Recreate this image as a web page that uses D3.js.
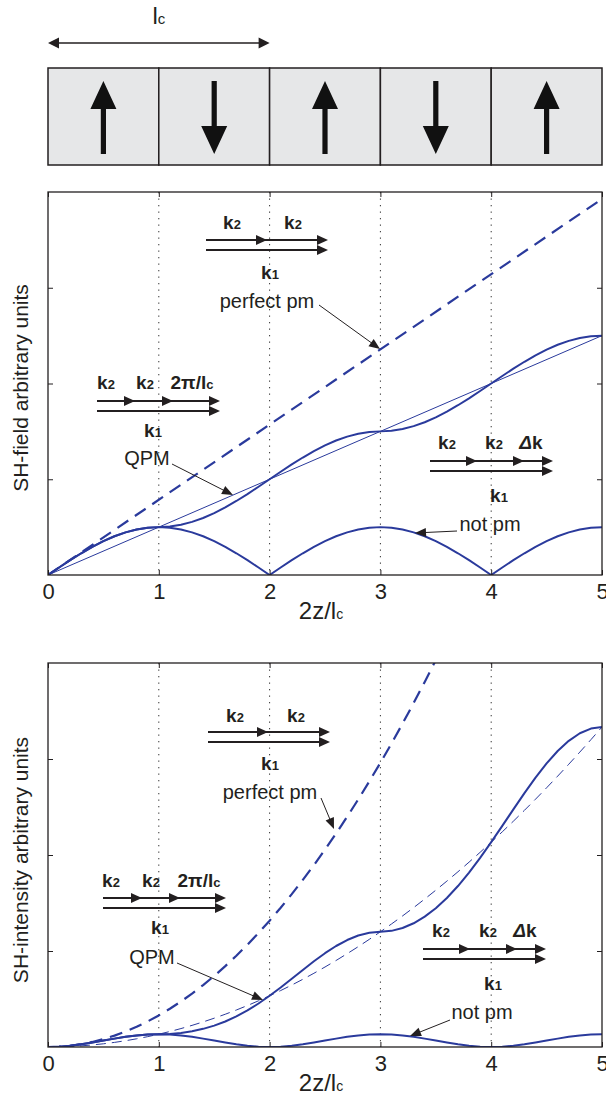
<!DOCTYPE html>
<html>
<head>
<meta charset="utf-8">
<script src="https://cdn.jsdelivr.net/npm/d3@7"></script>
<style>
  body { margin: 0; background: #fff; }
  svg { display: block; }
  text { font-family: "Liberation Sans", Arial, Helvetica, sans-serif; fill: #231f20; }
</style>
</head>
<body>
<svg id="fig" width="606" height="1101"></svg>
<script>
// ---- data -----------------------------------------------------------------
// position along the crystal, in units of lc/2 (one poled domain per unit)
const zGrid = [0,0.1,0.2,0.3,0.4,0.5,0.6,0.7,0.8,0.9,1,
  1.1,1.2,1.3,1.4,1.5,1.6,1.7,1.8,1.9,2,
  2.1,2.2,2.3,2.4,2.5,2.6,2.7,2.8,2.9,3,
  3.1,3.2,3.3,3.4,3.5,3.6,3.7,3.8,3.9,4,
  4.1,4.2,4.3,4.4,4.5,4.6,4.7,4.8,4.9,5];
const lineEnds = [0, 5];

// orientation of the ferroelectric domains (+1 up, -1 down)
const domainPolarity = [1, -1, 1, -1, 1];

const xTicks = [0, 1, 2, 3, 4, 5];
const gridLines = [1, 2, 3, 4];
const fieldTicks = [2, 4, 6];
const intensityTicks = [7.5, 15, 22.5];

// SH field amplitude
const fieldNotPm = [0,0.1564,0.3090,0.4540,0.5878,0.7071,0.8090,0.8910,0.9511,0.9877,1,
  0.9877,0.9511,0.8910,0.8090,0.7071,0.5878,0.4540,0.3090,0.1564,0,
  0.1564,0.3090,0.4540,0.5878,0.7071,0.8090,0.8910,0.9511,0.9877,1,
  0.9877,0.9511,0.8910,0.8090,0.7071,0.5878,0.4540,0.3090,0.1564,0,
  0.1564,0.3090,0.4540,0.5878,0.7071,0.8090,0.8910,0.9511,0.9877,1];
const fieldQpm = [0,0.1564,0.3090,0.4540,0.5878,0.7071,0.8090,0.8910,0.9511,0.9877,1,
  1.0123,1.0489,1.1090,1.1910,1.2929,1.4122,1.5460,1.6910,1.8436,2,
  2.1564,2.3090,2.4540,2.5878,2.7071,2.8090,2.8910,2.9511,2.9877,3,
  3.0123,3.0489,3.1090,3.1910,3.2929,3.4122,3.5460,3.6910,3.8436,4,
  4.1564,4.3090,4.4540,4.5878,4.7071,4.8090,4.8910,4.9511,4.9877,5];
const fieldPerfectPm = [0, 7.854];
const fieldQpmMean = [0, 5];

// SH intensity
const intensityNotPm = [0,0.0245,0.0955,0.2061,0.3455,0.5,0.6545,0.7939,0.9045,0.9755,1,
  0.9755,0.9045,0.7939,0.6545,0.5,0.3455,0.2061,0.0955,0.0245,0,
  0.0245,0.0955,0.2061,0.3455,0.5,0.6545,0.7939,0.9045,0.9755,1,
  0.9755,0.9045,0.7939,0.6545,0.5,0.3455,0.2061,0.0955,0.0245,0,
  0.0245,0.0955,0.2061,0.3455,0.5,0.6545,0.7939,0.9045,0.9755,1];
const intensityQpm = [0,0.0245,0.0955,0.2061,0.3455,0.5,0.6545,0.7939,0.9045,0.9755,1,
  1.0247,1.1002,1.2299,1.4185,1.6716,1.9943,2.3901,2.8595,3.3989,4,
  4.6501,5.3315,6.0221,6.6967,7.3284,7.8905,8.3579,8.7090,8.9264,9,
  9.0740,9.2958,9.6659,10.1825,10.8432,11.6431,12.5741,13.6235,14.7733,16,
  17.2757,18.5675,19.8381,21.0479,22.1568,23.1265,23.9219,24.5134,24.8772,25];
const intensityPerfectPm = [0,0.0247,0.0987,0.2221,0.3948,0.6169,0.8883,1.2090,1.5791,1.9986,2.4674,
  2.9856,3.5531,4.1699,4.8361,5.5517,6.3165,7.1308,7.9944,8.9073,9.8696,
  10.8812,11.9422,13.0525,14.2122,15.4213,16.6796,17.9873,19.3444,20.7508,22.2066,
  23.7117,25.2662,26.8700,28.5231,30.2257];
const intensityQpmMean = [0,0.01,0.04,0.09,0.16,0.25,0.36,0.49,0.64,0.81,1,
  1.21,1.44,1.69,1.96,2.25,2.56,2.89,3.24,3.61,4,
  4.41,4.84,5.29,5.76,6.25,6.76,7.29,7.84,8.41,9,
  9.61,10.24,10.89,11.56,12.25,12.96,13.69,14.44,15.21,16,
  16.81,17.64,18.49,19.36,20.25,21.16,22.09,23.04,24.01,25];

// ---- drawing --------------------------------------------------------------
const INK = '#231f20';
const BLUE = '#2a3a9c';
const svg = d3.select('#fig');
const x = d3.scaleLinear().domain([0, 5]).range([48, 602]);

function arrowHead(g, tx, ty, angle, len, half) {
  const c = Math.cos(angle), s = Math.sin(angle);
  const bx = tx - len * c, by = ty - len * s;
  const p = [[tx, ty], [bx - half * s, by + half * c], [bx + half * s, by - half * c]];
  g.append('path').attr('d', 'M' + p.map(q => q.join(',')).join('L') + 'Z').attr('fill', INK);
}

// poled crystal with domain orientations
const strip = svg.append('g');
const sTop = 68, sBot = 165;
strip.selectAll('rect').data(domainPolarity).join('rect')
  .attr('x', (d, i) => x(i)).attr('y', sTop)
  .attr('width', (d, i) => x(i + 1) - x(i)).attr('height', sBot - sTop)
  .attr('fill', '#e6e7e8').attr('stroke', INK).attr('stroke-width', 1.5);
strip.selectAll('path.pol').data(domainPolarity).join('path').attr('class', 'pol')
  .attr('fill', '#111')
  .attr('d', (d, i) => {
    const cx = x(i + 0.5), top = 81, bot = 154, hl = 28, hw = 13, sw = 2.6;
    if (d > 0) {
      return `M${cx},${top}L${cx + hw},${top + hl}L${cx + sw},${top + hl}L${cx + sw},${bot}` +
             `L${cx - sw},${bot}L${cx - sw},${top + hl}L${cx - hw},${top + hl}Z`;
    }
    return `M${cx},${bot}L${cx + hw},${bot - hl}L${cx + sw},${bot - hl}L${cx + sw},${top}` +
           `L${cx - sw},${top}L${cx - sw},${bot - hl}L${cx - hw},${bot - hl}Z`;
  });

// coherence length marker
const lcY = 43;
strip.append('line').attr('x1', x(0) + 6).attr('x2', x(2) - 6).attr('y1', lcY).attr('y2', lcY)
  .attr('stroke', INK).attr('stroke-width', 1.5);
arrowHead(strip, x(0), lcY, Math.PI, 11, 5.5);
arrowHead(strip, x(2), lcY, 0, 11, 5.5);
const lcText = strip.append('text').attr('x', x(1)).attr('y', 24).attr('text-anchor', 'middle')
  .attr('font-size', 24);
lcText.append('tspan').text('l');
lcText.append('tspan').attr('font-size', 15).text('c');

function panel(cfg) {
  const { top, bottom, yMax, yTicks, yLabel, series, labelBase, xLabelBase } = cfg;
  const y = d3.scaleLinear().domain([0, yMax]).range([bottom, top]);
  const g = svg.append('g');
  const clipId = 'clip' + top;
  svg.append('clipPath').attr('id', clipId).append('rect')
    .attr('x', x(0)).attr('y', top).attr('width', x(5) - x(0)).attr('height', bottom - top);

  g.selectAll('line.grid').data(gridLines).join('line').attr('class', 'grid')
    .attr('x1', d => x(d)).attr('x2', d => x(d)).attr('y1', top).attr('y2', bottom)
    .attr('stroke', '#333').attr('stroke-width', 1).attr('stroke-dasharray', '1.3,5.2');

  const cg = g.append('g').attr('clip-path', `url(#${clipId})`);
  const line = d3.line().x(d => x(d[0])).y(d => y(d[1]));
  series.forEach(s => {
    const pts = s.values.map((v, i) => [s.z[i], v]);
    cg.append('path').datum(pts).attr('d', line)
      .attr('fill', 'none').attr('stroke', BLUE).attr('stroke-width', s.width)
      .attr('stroke-dasharray', s.dash || null)
      .attr('stroke-linejoin', 'round');
  });

  g.append('rect').attr('x', x(0)).attr('y', top).attr('width', x(5) - x(0)).attr('height', bottom - top)
    .attr('fill', 'none').attr('stroke', INK).attr('stroke-width', 1.3);

  const styleAxis = a => { a.select('.domain').remove(); a.selectAll('line').attr('stroke', INK); };
  g.append('g').attr('transform', `translate(0,${bottom})`)
    .call(d3.axisBottom(x).tickValues(xTicks).tickSize(-5).tickPadding(8).tickFormat(d3.format('d')))
    .attr('font-size', 22).attr('font-family', '"Liberation Sans", Arial, sans-serif')
    .call(styleAxis)
    .selectAll('text').attr('fill', INK);
  g.append('g').attr('transform', `translate(0,${top})`)
    .call(d3.axisTop(x).tickValues(xTicks).tickSize(-5).tickFormat(''))
    .call(styleAxis);
  g.append('g').attr('transform', `translate(${x(0)},0)`)
    .call(d3.axisLeft(y).tickValues(yTicks).tickSize(-5).tickFormat(''))
    .call(styleAxis);
  g.append('g').attr('transform', `translate(${x(5)},0)`)
    .call(d3.axisRight(y).tickValues(yTicks).tickSize(-5).tickFormat(''))
    .call(styleAxis);

  g.append('text').attr('transform', `translate(28,${labelBase}) rotate(-90)`)
    .attr('text-anchor', 'middle').attr('font-size', 21).text(yLabel);

  const xl = g.append('text').attr('x', 321).attr('y', xLabelBase)
    .attr('text-anchor', 'middle').attr('font-size', 24);
  xl.append('tspan').text('2z/l');
  xl.append('tspan').attr('font-size', 14).text('c');
  return y;
}

// wave-vector diagram: k2 + k2 (+ extra) chained on the upper line, k1 below
function diagram(d) {
  const g = svg.append('g');
  const lw = 2;
  g.append('line').attr('x1', d.x0).attr('x2', d.x1 - 4).attr('y1', d.y).attr('y2', d.y)
    .attr('stroke', INK).attr('stroke-width', lw);
  g.append('line').attr('x1', d.x0).attr('x2', d.x1 - 4).attr('y1', d.y + 10).attr('y2', d.y + 10)
    .attr('stroke', INK).attr('stroke-width', lw);
  d.tips.forEach(t => arrowHead(g, t, d.y, 0, 11, 5));
  arrowHead(g, d.x1, d.y, 0, 11, 5);
  arrowHead(g, d.x1, d.y + 10, 0, 11, 5);
  d.labels.forEach(l => {
    const t = g.append('text').attr('x', l.x).attr('y', l.y).attr('text-anchor', 'middle')
      .attr('font-size', 19).attr('font-weight', 'bold');
    l.parts.forEach(p => {
      const s = t.append('tspan').text(p.t);
      if (p.small) s.attr('font-size', 13);
      if (p.italic) s.attr('font-style', 'italic');
    });
  });
  g.append('text').attr('x', d.cap.x).attr('y', d.cap.y).attr('text-anchor', 'middle')
    .attr('font-size', 20).text(d.cap.t);
}

function callout(x0, y0, x1, y1) {
  const g = svg.append('g');
  const a = Math.atan2(y1 - y0, x1 - x0);
  g.append('line').attr('x1', x0).attr('y1', y0)
    .attr('x2', x1 - 8 * Math.cos(a)).attr('y2', y1 - 8 * Math.sin(a))
    .attr('stroke', INK).attr('stroke-width', 1);
  arrowHead(g, x1, y1, a, 11, 4.5);
}

const k2 = [{ t: 'k' }, { t: '2', small: true }];
const k1 = [{ t: 'k' }, { t: '1', small: true }];
const gK = [{ t: '2π/l' }, { t: 'c', small: true }];
const dK = [{ t: 'Δ', italic: true }, { t: 'k' }];

// ---- SH field -------------------------------------------------------------
panel({
  top: 192, bottom: 575, yMax: 8, yTicks: fieldTicks,
  yLabel: 'SH-field arbitrary units', labelBase: 388, xLabelBase: 619,
  series: [
    { z: lineEnds, values: fieldPerfectPm, width: 2.2, dash: '13,8' },
    { z: lineEnds, values: fieldQpmMean, width: 1 },
    { z: zGrid, values: fieldQpm, width: 2 },
    { z: zGrid, values: fieldNotPm, width: 2 }
  ]
});
diagram({ x0: 206, x1: 328, y: 240, tips: [267],
  labels: [{ x: 232, y: 229, parts: k2 }, { x: 293, y: 229, parts: k2 }, { x: 270, y: 279, parts: k1 }],
  cap: { x: 267, y: 308, t: 'perfect pm' } });
diagram({ x0: 97, x1: 220, y: 401, tips: [135, 173],
  labels: [{ x: 106, y: 389, parts: k2 }, { x: 145, y: 389, parts: k2 }, { x: 192, y: 389, parts: gK },
           { x: 153, y: 437, parts: k1 }],
  cap: { x: 147, y: 465, t: 'QPM' } });
diagram({ x0: 430, x1: 553, y: 461, tips: [477, 524],
  labels: [{ x: 447, y: 449, parts: k2 }, { x: 494, y: 449, parts: k2 }, { x: 531, y: 449, parts: dK },
           { x: 499, y: 502, parts: k1 }],
  cap: { x: 490, y: 531, t: 'not pm' } });
callout(319, 305, 380, 349);
callout(172, 464, 233, 495);
callout(457, 531, 415, 533);

// ---- SH intensity ---------------------------------------------------------
panel({
  top: 663, bottom: 1047, yMax: 30, yTicks: intensityTicks,
  yLabel: 'SH-intensity arbitrary units', labelBase: 860, xLabelBase: 1091,
  series: [
    { z: zGrid.slice(0, intensityPerfectPm.length), values: intensityPerfectPm, width: 2.2, dash: '13,8' },
    { z: zGrid, values: intensityQpmMean, width: 1, dash: '10,6' },
    { z: zGrid, values: intensityQpm, width: 2 },
    { z: zGrid, values: intensityNotPm, width: 2 }
  ]
});
diagram({ x0: 208, x1: 330, y: 732, tips: [268],
  labels: [{ x: 235, y: 722, parts: k2 }, { x: 296, y: 722, parts: k2 }, { x: 270, y: 770, parts: k1 }],
  cap: { x: 270, y: 799, t: 'perfect pm' } });
diagram({ x0: 103, x1: 226, y: 898, tips: [142, 180],
  labels: [{ x: 111, y: 887, parts: k2 }, { x: 151, y: 887, parts: k2 }, { x: 199, y: 887, parts: gK },
           { x: 160, y: 934, parts: k1 }],
  cap: { x: 152, y: 964, t: 'QPM' } });
diagram({ x0: 423, x1: 546, y: 949, tips: [470, 517],
  labels: [{ x: 441, y: 937, parts: k2 }, { x: 488, y: 937, parts: k2 }, { x: 525, y: 937, parts: dK },
           { x: 493, y: 990, parts: k1 }],
  cap: { x: 482, y: 1019, t: 'not pm' } });
callout(321, 798, 334, 829);
callout(177, 963, 263, 1000);
callout(450, 1020, 410, 1036);
</script>
</body>
</html>
